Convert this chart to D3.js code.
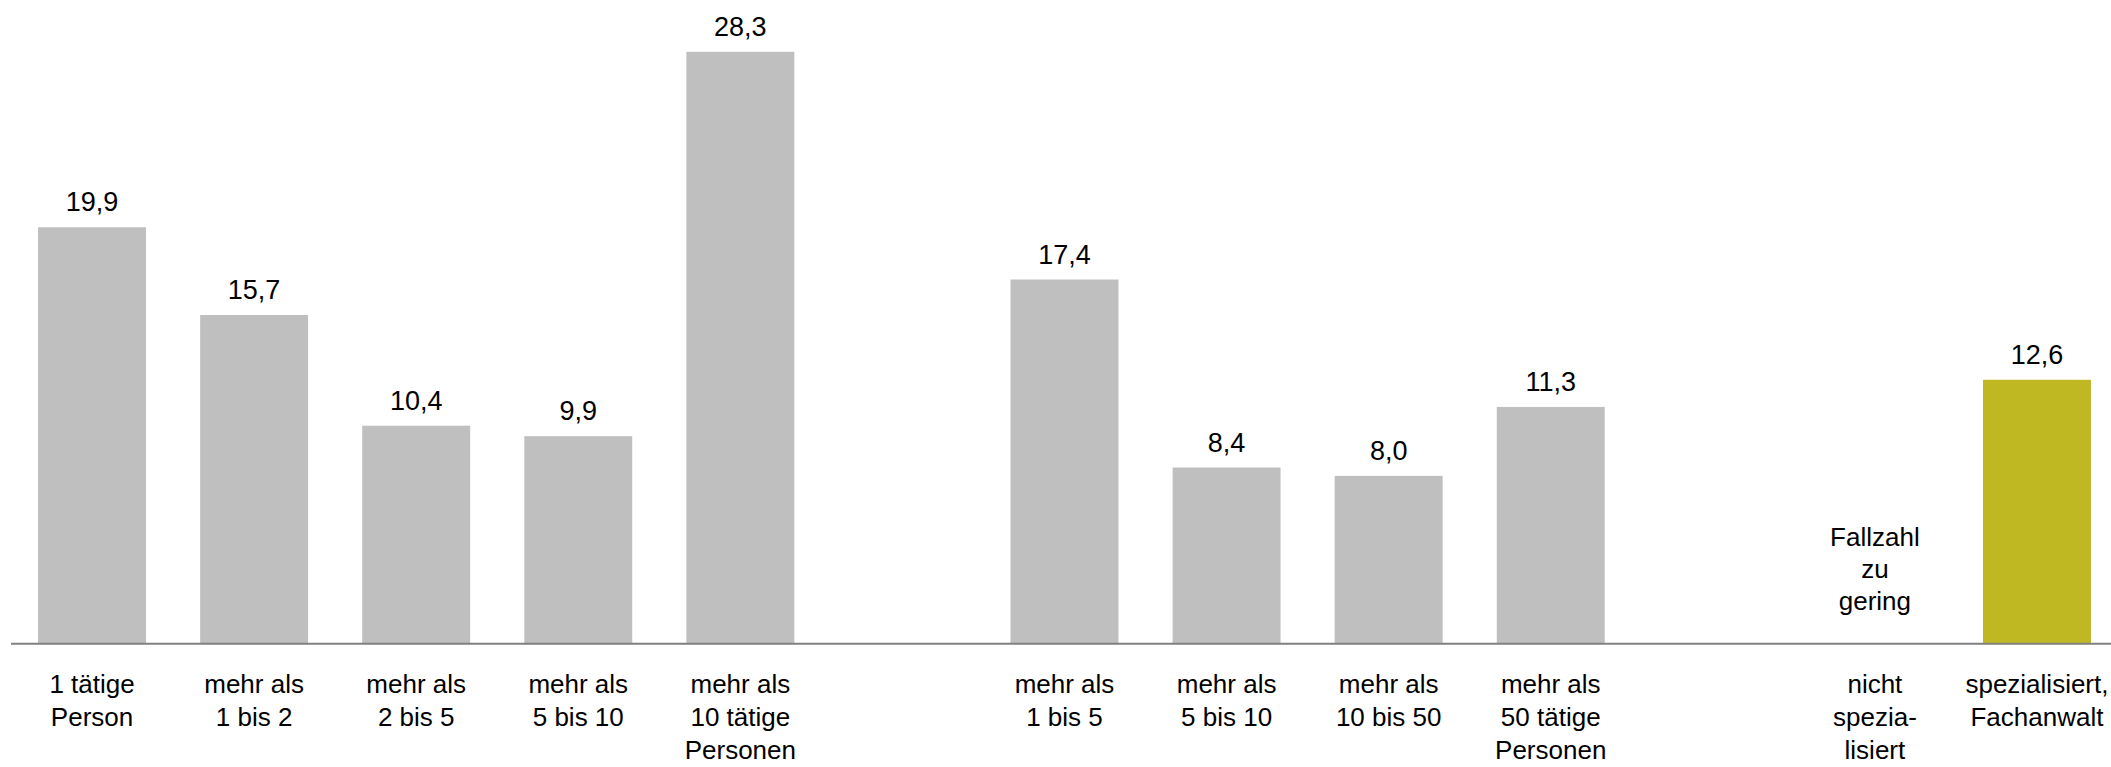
<!DOCTYPE html>
<html>
<head>
<meta charset="utf-8">
<script src="https://cdn.jsdelivr.net/npm/d3@7/dist/d3.min.js"></script>
<style>
  html, body { margin: 0; padding: 0; background: #ffffff; }
  svg { display: block; }
  text { font-family: "Liberation Sans", Arial, sans-serif; fill: #000; }
</style>
</head>
<body>
<svg id="chart" width="2111" height="767"></svg>
<script>
// ---- data ----
const slots = ["s0","s1","s2","s3","s4","gap1","s5","s6","s7","s8","gap2","s9","s10"];
const categoryLabels = [
  ["1 tätige","Person"],
  ["mehr als","1 bis 2"],
  ["mehr als","2 bis 5"],
  ["mehr als","5 bis 10"],
  ["mehr als","10 tätige","Personen"],
  [],
  ["mehr als","1 bis 5"],
  ["mehr als","5 bis 10"],
  ["mehr als","10 bis 50"],
  ["mehr als","50 tätige","Personen"],
  [],
  ["nicht","spezia-","lisiert"],
  ["spezialisiert,","Fachanwalt"]
];
const values = [19.9, 15.7, 10.4, 9.9, 28.3, null, 17.4, 8.4, 8.0, 11.3, null, null, 12.6];
const highlight = [false,false,false,false,false,false,false,false,false,false,false,false,true];
const notes = ["","","","","","","","","","","",["Fallzahl","zu","gering"],""];
const yDomain = [0, 30];

// ---- layout ----
const W = 2111, H = 767;
const baseline = 643;
const svg = d3.select("#chart");

const x = d3.scaleBand()
  .domain(slots)
  .range([11, 2118])
  .paddingInner(0.334)
  .paddingOuter(0.167);

const y = d3.scaleLinear()
  .domain(yDomain)
  .range([baseline, baseline - 30 * 20.89]);

const de = d3.formatLocale({decimal: ",", thousands: ".", grouping: [3], currency: ["", " €"]});
const fmt = de.format(".1f");

const data = slots.map((s, i) => ({
  slot: s, value: values[i], label: categoryLabels[i], hi: highlight[i], note: notes[i]
}));

// bars
svg.append("g").selectAll("rect")
  .data(data.filter(d => d.value != null))
  .join("rect")
  .attr("x", d => x(d.slot))
  .attr("width", x.bandwidth())
  .attr("y", d => y(d.value))
  .attr("height", d => y(0) - y(d.value))
  .attr("fill", d => d.hi ? "#bfb823" : "#bfbfbf");

// value labels
svg.append("g").selectAll("text")
  .data(data.filter(d => d.value != null))
  .join("text")
  .attr("x", d => x(d.slot) + x.bandwidth() / 2)
  .attr("y", d => y(d.value) - 16)
  .attr("text-anchor", "middle")
  .attr("font-size", 27)
  .text(d => fmt(d.value));

// notes (no value)
const noteG = svg.append("g");
data.filter(d => d.note && d.note.length).forEach(d => {
  const t = noteG.append("text")
    .attr("text-anchor", "middle")
    .attr("font-size", 26);
  d.note.forEach((line, j) => {
    t.append("tspan")
      .attr("x", x(d.slot) + x.bandwidth() / 2)
      .attr("y", 546 + j * 32)
      .text(line);
  });
});

// axis line
svg.append("line")
  .attr("x1", 11).attr("x2", W)
  .attr("y1", baseline + 0.7).attr("y2", baseline + 0.7)
  .attr("stroke", "#808080")
  .attr("stroke-width", 2);

// category labels
const catG = svg.append("g");
data.forEach(d => {
  if (!d.label.length) return;
  const t = catG.append("text")
    .attr("text-anchor", "middle")
    .attr("font-size", 26);
  d.label.forEach((line, j) => {
    t.append("tspan")
      .attr("x", x(d.slot) + x.bandwidth() / 2)
      .attr("y", 693 + j * 33)
      .text(line);
  });
});
</script>
</body>
</html>
